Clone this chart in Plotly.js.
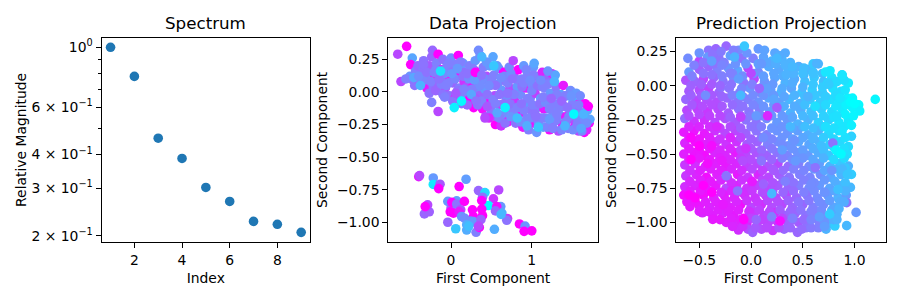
<!DOCTYPE html>
<html><head><meta charset="utf-8">
<script src="https://cdn.plot.ly/plotly-3.0.1.min.js"></script>
<style>html,body{margin:0;padding:0;background:#fff}</style></head>
<body><div id="chart" style="width:900px;height:300px"></div>
<script>
const spectrumIndex=[1,2,3,4,5,6,7,8,9];
const spectrumValue=[1.0,0.78,0.46,0.387,0.302,0.268,0.226,0.2204,0.2058];
const spectrumTickVals=[1,0.6,0.4,0.3,0.2];
const spectrumTickText=['10<sup>0</sup>','6 × 10<sup>−1</sup>','4 × 10<sup>−1</sup>','3 × 10<sup>−1</sup>','2 × 10<sup>−1</sup>'];
const spectrumMinorVals=[0.9,0.8,0.7,0.5];

// [first component, second component, colour value]
const dataUpperBack=[
[-.62,.08,.72],[-.66,.29,.72],[-.55,.35,1],[-.48,.26,.35],[-.5,.21,1],[-.51,.12,.42],[-.47,.09,.55],[-.44,.16,.5],[-.41,.2,.58],[-.38,.13,.5],
[-.36,.06,.85],[-.34,.24,.55],[-.32,.16,.6],[-.3,.03,.9],[-.28,.11,.45],[-.27,.2,.65],[-.24,.27,.6],[-.23,.32,.6],[-.22,.04,.55],[-.2,.13,1],
[-.18,.22,.5],[-.16,.29,1],[-.16,.07,.6],[-.14,.01,.5],[-.12,.17,.9],[-.1,.25,.55],[-.09,.1,.55],[-.07,.03,.65],[-.05,.2,.5],[-.03,.13,1],
[-.02,-.03,.55],[0,.26,.45],[.02,.07,.6],[.03,.17,.55],[.05,-.05,.95],[.06,.21,.5],[.07,.12,1],[.09,.28,1],[.1,.03,.5],[.12,.17,.6],
[.13,-.09,.55],[.15,.22,.42],[.16,.08,.8],[.18,-.01,.45],[.19,.15,.55],[.2,.04,.7],[.22,-.06,1],[.23,.2,.5],[.25,.12,.55],[.27,.07,.95],
[.28,-.12,1],[.3,.16,1],[.3,.24,.4],[.32,.02,.45],[.33,.13,1],[.35,-.03,.6],[.36,.28,.45],[.37,.08,.55],[.39,-.13,.95],[.4,.19,.5],
[.42,.02,.4],[.43,-.19,.7],[.44,.12,.7],[.46,-.07,1],[.48,.2,.4],[.49,.05,.55],[.5,-.15,.55],[.52,.27,.35],[.53,.13,.5],[.54,-.03,.7],
[.55,-.25,1],[.56,-.19,.6],[.58,.06,.45],[.59,.18,.45],[.6,-.1,.75],[.62,-.26,.8],[.63,.01,.4],[.65,.15,1],[.66,-.17,.45],[.68,.08,.55],
[.69,-.05,.45],[.7,-.23,.95],[.72,.19,.45],[.73,.03,.7],[.75,-.13,.5],[.77,.24,.72],[.78,.12,.55],[.79,-.07,.8],[.8,-.24,.55],[.82,.04,.4],
[.83,.17,1],[.85,-.16,.95],[.86,-.02,.45],[.88,.1,.5],[.89,-.27,.9],[.9,.2,.4],[.91,-.09,.4],[.93,.03,.85],[.94,-.2,.5],[.95,.13,.5],
[.96,-.29,.5],[.98,-.05,.5],[.99,-.14,.55],[1,.06,.45],[1.02,.19,.4],[1.03,-.24,.9],[1.04,-.01,.75],[1.05,.12,.55],[1.06,-.31,.42],[1.07,-.12,.5],
[1.09,.05,.9],[1.1,-.2,.6],[1.11,-.05,.4],[1.13,.15,.85],[1.14,-.27,.35],[1.15,-.13,.9],[1.16,.03,.5],[1.18,-.2,.45],[1.19,.1,.6],[1.2,-.07,.65],
[1.22,-.29,.95],[1.23,-.01,.4],[1.25,.14,.85],[1.26,-.15,.45],[1.27,-.23,.7],[1.29,.13,.35],[1.3,.04,.55],[1.32,-.09,.5],[1.33,-.3,.7],[1.35,-.18,.4],
[1.36,-.02,.35],[1.38,-.25,.9],[1.39,.05,.9],[1.4,-.11,.55],[1.42,-.19,.9],[1.43,-.03,.45],[1.45,-.28,.5],[1.47,-.13,.4],[1.48,.01,.45],[1.5,-.21,.7],
[1.51,-.07,.35],[1.53,-.27,.95],[1.54,-.14,.8],[1.55,-.01,.4],[1.57,-.21,.5],[1.59,-.09,.9],[1.6,-.03,.45],[1.58,-.3,.72],[1.62,-.16,.55],[1.63,-.26,.42],
[1.65,-.31,1],[1.66,-.09,1],[1.67,-.2,.45],[1.69,-.14,.35],[1.7,-.11,1],[1.71,-.24,.95],[1.72,-.21,.35],[1.68,-.29,.85]];
const dataUpperFill=[
[-.56,.1,.5],[-.45,.05,.55],[-.42,.1,.6],[-.35,.17,.55],[-.33,.09,.48],[-.25,.08,.5],[-.27,-.01,.55],[-.19,.17,.5],[-.19,.01,.6],[-.12,.06,.5],
[-.1,-.02,.55],[-.08,.14,.45],[-.03,.07,.5],[-.03,.22,.5],[.02,-.07,.55],[.05,.1,.48],[.08,.01,.55],[.12,.23,.5],[.15,.12,.55],[.12,-.03,.5],
[.2,-.1,.6],[.22,.1,.45],[.26,.02,.5],[.27,.18,.5],[.3,-.05,.65],[.33,-.1,.55],[.36,.05,.45],[.38,-.07,.5],[.42,.1,.45],[.44,.23,.4],
[.45,-.02,.55],[.48,-.12,.55],[.5,.1,.5],[.52,-.06,.5],[.47,-.2,.85],[.55,.05,.55],[.57,.2,.4],[.6,-.02,.55],[.6,-.2,.5],[.65,-.09,.55],
[.66,.12,.48],[.67,-.24,.55],[.7,.07,.5],[.73,-.09,.55],[.74,.14,.45],[.77,-.17,.5],[.78,-.02,.5],[.82,-.12,.5],[.84,.09,.5],[.86,-.23,.45],
[.88,.04,.55],[.9,-.14,.5],[.93,.17,.48],[.95,-.05,.5],[.98,-.2,.48],[1,.01,.48],[1.01,-.1,.5],[1.02,.13,.5],[1.04,-.17,.55],[1.07,.05,.55],
[1.08,-.23,.45],[1.1,-.09,.55],[1.13,.04,.5],[1.14,-.2,.5],[1.17,-.08,.45],[1.19,-.27,.48],[1.2,.06,.5],[1.22,-.13,.5],[1.26,-.28,.5],[1.27,-.09,.5],
[1.3,-.22,.5],[1.31,-.02,.5],[1.35,-.12,.5],[1.37,-.29,.48],[1.41,-.03,.5],[1.42,-.23,.5],[1.46,-.19,.5],[1.5,-.1,.5],[1.51,-.29,.45],[1.56,-.17,.45],[1.6,-.22,.45]];
const dataUpperFront=[
[-.46,.11,.35],[-.4,.12,.45],[-.38,.05,.3],[-.34,.21,.55],[-.3,.15,.55],[-.24,-.08,.5],[-.21,.15,.5],[-.16,-.15,.72],[-.15,.1,.55],[-.13,.16,.12],
[-.08,-.04,.5],[-.06,.05,.5],[.01,.14,.4],[.04,-.12,.05],[.06,-.01,.65],[.08,.18,.4],[.13,-.07,.02],[.16,.02,.5],[.2,.14,.55],[.25,-.02,.35],
[.29,.09,.4],[.3,.15,1],[.31,-.07,.55],[.34,.32,.45],[.38,.27,.28],[.38,.13,.55],[.42,-.2,.72],[.45,-.11,.65],[.47,.05,.45],[.53,.2,.22],
[.55,-.09,.5],[.57,-.16,.35],[.62,.11,.45],[.67,-.12,.05],[.7,-.01,.55],[.74,-.19,.42],[.76,.1,.55],[.82,-.2,.25],[.87,-.09,.55],[.9,.07,.5],
[.94,-.26,.32],[.98,.09,.45],[1.03,.22,.35],[1.05,-.19,.55],[1.08,-.27,.22],[1.11,.09,.45],[1.14,-.04,.5],[1.2,.16,.42],[1.22,-.21,.4],[1.24,-.05,.6],
[1.28,.08,.3],[1.31,-.17,.5],[1.37,-.07,.6],[1.41,-.26,.3],[1.44,-.12,.55],[1.49,-.03,.42],[1.52,-.17,.02],[1.56,-.25,.5],[1.58,-.1,.5],[1.64,-.17,.3],[1.68,-.24,.45],[1.62,-.3,.45],[1.61,-.28,.35]];
const dataLower=[
[-.4,-.65,.9],[-.39,-.642,.72],[-.22,-.66,.4],[-.22,-.71,.08],[-.136,-.708,.65],[-.153,-.742,1],[.186,-.67,.38],[.1,-.726,1],[.34,-.757,.6],[.42,-.772,.15],
[.59,-.752,.72],[.525,-.82,.8],[.39,-.808,.55],[.463,-.872,.02],[.616,-.88,.4],[.566,-.88,.95],[.63,-.93,.32],[.55,-.913,.6],[.7,-.972,.8],[.69,-.985,.55],
[.847,-1.013,1],[.917,-1.03,.42],[.905,-1.07,1],[1.0,-1.066,1],[.537,-1.054,.32],[.31,-1.077,.5],[.35,-1.04,1],[.194,-1.06,.32],[.058,-1.05,.22],[-.04,-1.0,.6],
[-.33,-.936,.6],[-.27,-.92,.62],[-.29,-.867,.72],[-.32,-.88,1],[-.04,-.84,.4],[.07,-.836,.38],[.0,-.89,.6],[.01,-.847,1],[-.01,-.92,1],[.03,-.93,1],
[.07,-.86,.55],[.165,-.84,1],[.12,-.905,.72],[.1,-.92,.9],[.13,-.956,.42],[.17,-.97,.45],[.265,-.905,1],[.277,-.957,1],[.24,-.99,.45],[.277,-.995,.4],
[.38,-.9,1],[.39,-.95,1],[.38,-.834,1],[.37,-.98,.62],[.194,-1.02,.32],[.22,-1.03,.25],[.34,-1.03,.72],[.62,-.94,.28]];

const predBack=[
[-.41,.26,.55],[-.34,.27,.6],[-.24,.29,.6],[-.12,.26,.45],[.07,.27,.4],[.23,.24,.35],[.33,.24,.33],
[-.61,.2,.45],[-.5,.18,.72],[-.42,.21,.4],[-.31,.2,.55],[-.2,.22,.38],[-.09,.2,.55],[.02,.2,.5],[.12,.21,.36],[.2,.18,.3],[.3,.19,.3],[.38,.17,.3],
[-.6,.1,.4],[-.5,.12,.62],[-.41,.14,.6],[-.33,.11,.5],[-.22,.13,.42],[-.13,.11,.35],[-.03,.13,.72],[.07,.1,.45],[.17,.14,.33],[.27,.12,.34],[.36,.11,.28],[.46,.14,.32],[.56,.12,.3],[.65,.16,.3],
[-.63,.04,.68],[-.54,.03,.6],[-.46,.05,.72],[-.36,.06,.6],[-.27,.03,.55],[-.17,.06,.45],[-.07,.02,.55],[.03,.05,.72],[.13,.03,.42],[.23,.06,.35],[.33,.02,.3],[.42,.05,.33],[.52,.03,.25],[.61,.06,.22],[.7,.03,.25],[.78,.06,.12],[.88,.08,.12],
[-.6,-.04,.65],[-.5,-.03,.7],[-.41,-.02,.75],[-.31,-.05,.62],[-.21,-.02,.55],[-.11,-.05,.5],[-.01,-.02,.42],[.09,-.05,.5],[.19,-.03,.38],[.29,-.05,.28],[.39,-.02,.35],[.49,-.05,.24],[.59,-.03,.2],[.69,-.05,.22],[.79,-.02,.12],[.87,-.04,.14],[.94,.02,.08],
[-.63,-.1,.6],[-.53,-.11,.72],[-.43,-.1,.68],[-.33,-.12,.7],[-.23,-.09,.6],[-.13,-.12,.55],[-.03,-.1,.5],[.07,-.12,.42],[.17,-.09,.35],[.27,-.12,.38],[.37,-.1,.28],[.47,-.13,.3],[.57,-.1,.22],[.67,-.12,.2],[.77,-.1,.12],[.85,-.12,.1],[.93,-.09,.05],[.98,-.09,.03],
[-.62,-.18,.72],[-.52,-.17,.75],[-.42,-.19,.78],[-.32,-.17,.72],[-.22,-.2,.65],[-.12,-.17,.55],[-.02,-.19,.55],[.08,-.17,.5],[.18,-.19,.4],[.28,-.17,.42],[.38,-.2,.3],[.48,-.18,.32],[.58,-.19,.24],[.68,-.17,.2],[.78,-.19,.14],[.88,-.17,.08],[.98,-.16,.04],[1.04,-.14,.02],[1.05,-.185,.05],
[-.64,-.24,.58],[-.55,-.26,.8],[-.45,-.25,.82],[-.35,-.27,.72],[-.25,-.24,.68],[-.15,-.27,.65],[-.05,-.25,.55],[.05,-.27,.55],[.15,-.24,.45],[.25,-.27,.4],[.35,-.25,.4],[.45,-.28,.3],[.55,-.25,.3],[.65,-.27,.18],[.75,-.25,.18],[.85,-.27,.1],[.94,-.25,.08],
[-.65,-.34,.9],[-.55,-.33,.92],[-.45,-.35,.9],[-.35,-.33,.8],[-.25,-.35,.72],[-.15,-.33,.72],[-.05,-.35,.62],[.05,-.33,.55],[.15,-.36,.5],[.25,-.33,.42],[.35,-.35,.42],[.45,-.33,.38],[.55,-.36,.32],[.65,-.33,.3],[.75,-.35,.15],[.85,-.33,.12],[.97,-.37,.18],
[-.64,-.42,.85],[-.54,-.41,.95],[-.44,-.43,.88],[-.34,-.41,.85],[-.24,-.43,.8],[-.14,-.41,.8],[-.04,-.43,.65],[.06,-.41,.62],[.16,-.43,.5],[.26,-.41,.45],[.36,-.44,.42],[.46,-.41,.35],[.56,-.43,.35],[.66,-.41,.3],[.76,-.43,.2],[.86,-.41,.15],[.94,-.446,.15],
[-.65,-.5,.88],[-.55,-.49,.92],[-.45,-.51,.95],[-.35,-.49,.85],[-.25,-.51,.85],[-.15,-.49,.9],[-.05,-.51,.72],[.05,-.49,.68],[.15,-.51,.62],[.25,-.49,.55],[.35,-.51,.48],[.45,-.49,.42],[.55,-.51,.4],[.65,-.49,.32],[.75,-.51,.22],[.84,-.49,.05],[.93,-.5,.12],
[-.64,-.58,.78],[-.54,-.57,.82],[-.44,-.59,.85],[-.34,-.57,.88],[-.24,-.59,.9],[-.14,-.57,.85],[-.04,-.59,.75],[.06,-.57,.72],[.16,-.59,.68],[.26,-.57,.72],[.36,-.59,.58],[.46,-.57,.5],[.56,-.59,.45],[.66,-.57,.38],[.76,-.59,.3],[.86,-.57,.22],[.94,-.588,.3],
[-.63,-.66,.78],[-.53,-.65,.85],[-.43,-.67,.95],[-.33,-.65,.88],[-.23,-.67,.85],[-.13,-.65,.9],[-.03,-.67,.78],[.07,-.65,.85],[.17,-.67,.72],[.27,-.65,.65],[.37,-.67,.55],[.47,-.65,.5],[.57,-.67,.48],[.67,-.65,.45],[.77,-.67,.35],[.87,-.65,.3],[.97,-.649,.2],
[-.64,-.74,.82],[-.54,-.73,.85],[-.44,-.75,.92],[-.34,-.73,.9],[-.24,-.75,.72],[-.14,-.73,.85],[-.04,-.75,.8],[.06,-.73,.75],[.16,-.75,.72],[.26,-.73,.65],[.36,-.75,.6],[.46,-.73,.5],[.56,-.75,.45],[.66,-.73,.4],[.76,-.75,.35],[.86,-.73,.3],[.96,-.744,.28],
[-.65,-.8,.95],[-.56,-.81,.9],[-.46,-.8,.95],[-.36,-.82,.88],[-.26,-.8,.9],[-.16,-.82,.85],[-.06,-.8,.82],[.04,-.82,.8],[.14,-.8,.78],[.24,-.82,.72],[.34,-.8,.72],[.44,-.82,.6],[.54,-.8,.55],[.64,-.82,.45],[.74,-.8,.4],[.84,-.82,.3],[.92,-.8,.38],
[-.59,-.885,.9],[-.5,-.88,.9],[-.4,-.89,.85],[-.3,-.87,.85],[-.2,-.89,.88],[-.1,-.87,.95],[0,-.89,.72],[.1,-.87,.82],[.2,-.89,.7],[.3,-.87,.72],[.4,-.89,.6],[.5,-.87,.6],[.6,-.89,.5],[.7,-.87,.45],[.8,-.89,.35],[.924,-.856,.55],
[-.47,-.93,.85],[-.37,-.95,.88],[-.27,-.93,.85],[-.17,-.95,.9],[-.07,-.97,1],[.03,-.93,.78],[.13,-.95,.72],[.23,-.93,.82],[.33,-.95,.62],[.43,-.93,.6],[.53,-.95,.55],[.63,-.93,.5],[.73,-.96,.42],[.83,-.94,.3],[1.015,-.927,.4],
[-.37,-.978,.9],[-.24,-1,.88],[-.14,-1.01,.85],[-.04,-1.01,.85],[.06,-1,.7],[.16,-1.01,.75],[.26,-1,.85],[.36,-1.01,.62],[.46,-1,.65],[.56,-1.01,.5],[.66,-1.01,.5],[.76,-1.01,.3],[.81,-1.027,.2],[.924,-1.024,.28],
[-.122,-1.056,.82],[-.03,-1.05,.7],[.016,-1.073,.62],[.1,-1.05,.7],[.21,-1.06,.78],[.32,-1.05,.6],[.448,-1.073,.6],[.53,-1.04,.55],[.65,-1.04,.5],[.725,-1.05,.3]];
const predFill=[
[-.37,.23,.55],[-.29,.25,.52],[-.17,.26,.5],[-.04,.24,.42],[.13,.26,.36],[.27,.22,.33],
[-.55,.15,.5],[-.46,.17,.55],[-.36,.16,.55],[-.26,.17,.5],[-.15,.16,.42],[-.05,.16,.42],[.07,.16,.38],[.15,.17,.35],[.24,.16,.32],[.33,.15,.3],[.42,.13,.3],[.51,.13,.26],[.6,.1,.25],
[-.57,.07,.5],[-.46,.09,.55],[-.38,.08,.55],[-.28,.07,.5],[-.18,.09,.48],[-.08,.07,.45],[.02,.09,.42],[.12,.07,.38],[.22,.09,.35],[.31,.07,.32],[.41,.09,.3],[.51,.08,.28],[.6,.09,.24],[.69,.09,.25],[.77,.02,.16],[.83,.03,.14],[.9,.04,.12],
[-.58,0,.62],[-.48,.01,.62],[-.38,.01,.65],[-.29,-.01,.55],[-.19,.01,.55],[-.09,-.02,.48],[.01,.01,.5],[.11,-.01,.42],[.21,.01,.4],[.3,-.02,.33],[.4,.02,.32],[.5,-.01,.3],[.6,.01,.22],[.69,-.01,.2],[.74,.02,.18],[.82,-.06,.12],[.91,-.03,.1],
[-.58,-.07,.62],[-.48,-.07,.65],[-.38,-.07,.65],[-.28,-.08,.6],[-.18,-.07,.5],[-.08,-.08,.5],[.02,-.07,.45],[.12,-.07,.42],[.22,-.07,.4],[.32,-.08,.35],[.42,-.07,.3],[.52,-.08,.26],[.62,-.07,.22],[.72,-.08,.2],[.82,-.07,.14],[.9,-.12,.08],
[-.57,-.14,.65],[-.47,-.15,.7],[-.38,-.14,.7],[-.28,-.15,.65],[-.18,-.14,.58],[-.08,-.15,.55],[.02,-.14,.48],[.12,-.15,.42],[.22,-.14,.4],[.32,-.15,.32],[.42,-.15,.32],[.52,-.14,.25],[.62,-.15,.22],[.72,-.14,.15],[.82,-.15,.1],[.92,-.14,.05],
[-.6,-.22,.7],[-.5,-.21,.72],[-.4,-.22,.75],[-.3,-.22,.72],[-.2,-.23,.62],[-.1,-.22,.62],[0,-.22,.52],[.1,-.22,.48],[.2,-.22,.42],[.3,-.22,.4],[.4,-.23,.35],[.5,-.22,.28],[.6,-.22,.25],[.7,-.22,.18],[.8,-.23,.12],[.91,-.21,.05],[.99,-.22,.04],
[-.6,-.3,.85],[-.5,-.3,.85],[-.4,-.3,.82],[-.3,-.31,.75],[-.2,-.3,.7],[-.1,-.31,.62],[0,-.3,.55],[.1,-.3,.5],[.2,-.31,.42],[.3,-.3,.42],[.4,-.31,.35],[.5,-.3,.32],[.6,-.31,.25],[.7,-.3,.2],[.8,-.31,.12],[.9,-.3,.1],[.97,-.29,.06],
[-.6,-.38,.9],[-.5,-.39,.92],[-.4,-.38,.88],[-.3,-.39,.8],[-.1,-.38,.72],[0,-.39,.62],[.1,-.38,.55],[.2,-.39,.48],[.3,-.38,.42],[.4,-.39,.38],[.5,-.38,.35],[.6,-.39,.3],[.7,-.38,.2],[.8,-.39,.15],[.91,-.38,.12],
[-.6,-.46,.9],[-.5,-.47,.92],[-.4,-.46,.9],[-.3,-.47,.85],[-.2,-.46,.85],[-.1,-.47,.75],[0,-.46,.65],[.1,-.47,.58],[.2,-.46,.52],[.3,-.43,.45],[.4,-.46,.42],[.5,-.47,.38],[.6,-.46,.32],[.7,-.47,.25],[.8,-.45,.15],[.9,-.46,.12],
[-.6,-.54,.88],[-.5,-.53,.9],[-.4,-.54,.9],[-.3,-.53,.88],[-.2,-.54,.85],[-.1,-.53,.78],[0,-.54,.7],[.1,-.53,.62],[.2,-.54,.6],[.3,-.53,.5],[.4,-.54,.45],[.5,-.53,.42],[.6,-.54,.35],[.7,-.53,.3],[.8,-.54,.15],[.9,-.53,.15],
[-.59,-.62,.82],[-.49,-.62,.88],[-.39,-.61,.88],[-.29,-.62,.88],[-.19,-.61,.85],[-.09,-.62,.82],[.01,-.61,.72],[.11,-.62,.75],[.21,-.61,.65],[.31,-.62,.58],[.41,-.61,.5],[.51,-.62,.48],[.61,-.61,.42],[.71,-.62,.35],[.81,-.61,.28],[.91,-.6,.22],
[-.59,-.7,.85],[-.49,-.69,.88],[-.39,-.7,.9],[-.29,-.69,.85],[-.19,-.71,.82],[-.09,-.69,.8],[.01,-.71,.82],[.11,-.69,.72],[.21,-.71,.68],[.31,-.69,.6],[.41,-.71,.55],[.51,-.69,.5],[.61,-.71,.45],[.71,-.69,.4],[.81,-.7,.32],[.91,-.71,.25],
[-.59,-.77,.88],[-.49,-.77,.9],[-.39,-.77,.9],[-.29,-.78,.85],[-.19,-.77,.85],[-.09,-.78,.82],[.01,-.77,.78],[.11,-.78,.7],[.21,-.77,.68],[.31,-.78,.6],[.41,-.77,.58],[.51,-.78,.5],[.61,-.77,.45],[.71,-.78,.4],[.81,-.77,.35],[.91,-.77,.3],
[-.62,-.85,.9],[-.54,-.85,.92],[-.44,-.85,.88],[-.34,-.85,.88],[-.24,-.84,.88],[-.14,-.85,.85],[-.04,-.84,.8],[.06,-.85,.78],[.16,-.84,.72],[.26,-.85,.7],[.36,-.84,.62],[.46,-.85,.55],[.56,-.84,.52],[.66,-.85,.45],[.76,-.84,.38],[.86,-.85,.32],
[-.5,-.92,.88],[-.42,-.92,.88],[-.32,-.91,.88],[-.22,-.92,.88],[-.12,-.91,.88],[-.02,-.92,.82],[.08,-.91,.75],[.18,-.92,.72],[.28,-.91,.65],[.38,-.92,.6],[.48,-.91,.55],[.58,-.92,.5],[.68,-.91,.45],[.78,-.91,.35],[.85,-.9,.3],
[-.3,-.98,.9],[-.19,-.97,.88],[-.1,-.98,.88],[0,-.97,.75],[.1,-.98,.75],[.2,-.98,.72],[.3,-.97,.72],[.41,-.98,.6],[.51,-.98,.58],[.61,-.97,.5],[.71,-1,.42],[.8,-.98,.32],
[-.18,-1.03,.85],[-.08,-1.03,.82],[.04,-1.04,.65],[.15,-1.04,.72],[.27,-1.04,.68],[.38,-1.04,.6],[.49,-1.05,.58],[.58,-1.04,.52],[.71,-1.03,.38]];
const predFront=[
[-.064,.29,.22],[-.5,.24,.42],[-.38,.18,.38],[-.28,.15,.48],[-.16,.21,.3],[-.12,.05,.38],[.0,.09,.72],[.1,.16,.4],[.15,-.02,.38],[.25,.2,.28],[.4,.14,.28],[.5,.09,.25],[.6,.16,.22],[.634,.163,.3],[.763,.11,.08],[.72,.1,.1],[.88,.078,.1],
[-.44,-.07,.45],[-.3,.0,.6],[-.2,.09,.5],[-.1,-.07,.28],[.08,-.02,.6],[.22,-.1,.35],[.34,.08,.3],[.55,-.08,.3],[.62,-.15,.12],[.75,.01,.2],[.86,-.09,.1],[.96,-.12,.02],[1.0,-.13,.0],[1.2,-.1,.03],
[-.1,-.23,.75],[.16,-.22,.85],[-.33,-.3,.85],[.05,-.22,.4],[.25,-.16,.65],[.38,-.3,.28],[.52,-.3,.25],[.6,-.38,.3],[.72,-.3,.12],[.83,-.22,.12],[.88,-.33,.1],[.79,-.42,.55],
[-.58,-.38,.98],[-.5,-.44,1],[-.38,-.44,.95],[-.2,-.38,.85],[-.05,-.46,.8],[.12,-.38,.45],[.3,-.47,.38],[.42,-.4,.42],[.68,-.44,.25],[.82,-.47,.04],[.87,-.5,.02],
[-.58,-.54,1],[-.42,-.57,.95],[-.28,-.55,.9],[-.08,-.55,.7],[.1,-.55,.55],[.22,-.62,.65],[.43,-.55,.4],[.62,-.6,.55],[.78,-.62,.42],[.88,-.61,.28],[.93,-.65,.22],
[-.46,-.73,1],[-.38,-.78,1],[-.24,-.66,.55],[-.13,-.77,.55],[.01,-.7,.9],[.12,-.72,.62],[.33,-.7,.5],[.58,-.72,.45],[.71,-.78,.42],[.2,-.79,.28],[.84,-.76,.25],[.9,-.85,.32],
[-.6,-.8,1],[-.54,-.82,1],[-.27,-.87,.9],[-.07,-.98,1],[.05,-.98,.6],[.2,-.96,.5],[.28,-.99,.95],[.4,-.97,.5],[.58,-.98,.48],[.66,-.96,.38],[.83,-.98,.3],[.76,-.94,.2]];

function col(rows,i){return rows.map(r=>r[i]);}
const dataRows=dataUpperBack.concat(dataUpperFill,dataUpperFront,dataLower);
const predRows=predBack.concat(predFill,predFront);
const cool=[[0,'#00ffff'],[1,'#ff00ff']];
const ink='#000000';
const base={showgrid:false,zeroline:false,showline:true,mirror:true,linecolor:ink,linewidth:1,ticks:'outside',ticklen:5,tickwidth:1,tickcolor:ink,
  tickfont:{size:13.9,color:'#000'}};
const ttl=(t,s)=>({text:t,font:{size:13.9,color:'#000'},standoff:s});
const traces=[
 {type:'scatter',mode:'markers',x:spectrumIndex,y:spectrumValue,xaxis:'x',yaxis:'y',marker:{color:'#1f77b4',size:9.6}},
 {type:'scatter',mode:'markers',x:col(dataRows,0),y:col(dataRows,1),xaxis:'x2',yaxis:'y2',marker:{color:col(dataRows,2),colorscale:cool,cmin:0,cmax:1,size:9.6,showscale:false}},
 {type:'scatter',mode:'markers',x:col(predRows,0),y:col(predRows,1),xaxis:'x3',yaxis:'y3',marker:{color:col(predRows,2),colorscale:cool,cmin:0,cmax:1,size:9.6,showscale:false}}
];
const W=900,H=300;
const dx=(a,b)=>[a/W,b/W];
const dy=[1-242.3/H,1-37.5/H];
const tt=(t,x)=>({text:t,x:x/W,y:1-35/H,xref:'paper',yref:'paper',xanchor:'center',yanchor:'bottom',showarrow:false,font:{size:16.7,color:'#000'}});
const layout={width:W,height:H,margin:{l:0,r:0,t:0,b:0},showlegend:false,paper_bgcolor:'#fff',plot_bgcolor:'#fff',
 font:{family:'DejaVu Sans',color:'#000'},
 xaxis:{...base,domain:dx(101.5,310),anchor:'y',range:[0.62,9.37],tickmode:'array',tickvals:[2,4,6,8],title:ttl('Index',6)},
 yaxis:{...base,domain:dy,anchor:'x',type:'log',range:[-0.7235,0.0364],tickmode:'array',tickvals:spectrumTickVals,ticktext:spectrumTickText,
   minor:{tickmode:'array',tickvals:spectrumMinorVals,ticks:'outside',ticklen:3,tickwidth:1,tickcolor:ink},title:ttl('Relative Magnitude',1)},
 xaxis2:{...base,domain:dx(388.3,598),anchor:'y2',range:[-0.777,1.82],tickmode:'array',tickvals:[0,1],title:ttl('First Component',6)},
 yaxis2:{...base,domain:dy,anchor:'x2',range:[-1.154,0.418],tickmode:'array',tickvals:[0.25,0,-0.25,-0.5,-0.75,-1],tickformat:'.2f',title:ttl('Second Component',6)},
 xaxis3:{...base,domain:dx(676.3,885.7),anchor:'y3',range:[-0.722,1.301],tickmode:'array',tickvals:[-0.5,0,0.5,1],tickformat:'.1f',title:ttl('First Component',6)},
 yaxis3:{...base,domain:dy,anchor:'x3',range:[-1.146,0.353],tickmode:'array',tickvals:[0.25,0,-0.25,-0.5,-0.75,-1],tickformat:'.2f',title:ttl('Second Component',5)},
 annotations:[tt('Spectrum',205.5),tt('Data Projection',493),tt('Prediction Projection',781)]
};
Plotly.newPlot('chart',traces,layout,{displayModeBar:false,staticPlot:true});
</script></body></html>
